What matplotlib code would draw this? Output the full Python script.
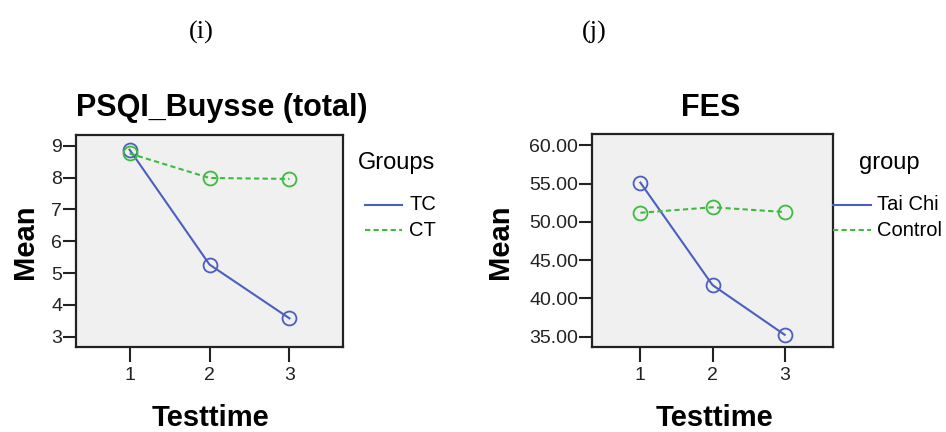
import matplotlib
matplotlib.use('Agg')
import matplotlib.pyplot as plt
from matplotlib.lines import Line2D

# ---- data ----
testtime = [1, 2, 3]

psqi_tc = [8.88, 5.27, 3.58]
psqi_ct = [8.76, 7.99, 7.96]
psqi_ticks = [3, 4, 5, 6, 7, 8, 9]

fes_taichi = [55.15, 41.75, 35.25]
fes_control = [51.2, 51.92, 51.3]
fes_ticks = [35, 40, 45, 50, 55, 60]

BLUE = '#4b5fc0'
GREEN = '#3dbb3d'
DASH = (0, (2.5, 1.6))

W, H = 946, 432
plt.rcParams['font.family'] = ['Liberation Sans', 'DejaVu Sans']


def fx(x):
    return x / W


def fy(y):
    return 1 - y / H


fig = plt.figure(figsize=(W / 100, H / 100), dpi=100)


def panel(rect, s1, s2, ticks, ylim, fmt):
    ax = fig.add_axes(rect)
    ax.set_facecolor('#f0f0f0')
    ax.plot(testtime, s1, color=BLUE, lw=1.5, marker='o', ms=10,
            mfc='none', mec=BLUE, mew=1.3)
    ax.plot(testtime, s2, color=GREEN, lw=1.5, ls=DASH, marker='o', ms=10,
            mfc='none', mec=GREEN, mew=1.3)
    ax.set_xlim(0.33, 3.67)
    ax.set_ylim(*ylim)
    ax.set_xticks(testtime)
    ax.set_yticks(ticks)
    ax.set_yticklabels([fmt.format(t) for t in ticks])
    for sp in ax.spines.values():
        sp.set_linewidth(1.6)
        sp.set_color('#222222')
    ax.tick_params(axis='y', length=9.5, width=1.5, pad=0.5,
                   labelsize=14, colors='#222222')
    ax.tick_params(axis='x', length=11, width=1.5, pad=3.5,
                   labelsize=14, colors='#222222')
    return ax


ax1 = panel([fx(76), fy(347), fx(267), 212 / H],
            psqi_tc, psqi_ct, psqi_ticks, (2.68, 9.34), '{:d}')
ax2 = panel([fx(592), fy(347), fx(241), 213 / H],
            fes_taichi, fes_control, fes_ticks, (33.65, 61.5), '{:.2f}')

# titles, axis labels
fig.text(fx(222), fy(108), 'PSQI_Buysse (total)', ha='center', va='center',
         fontsize=22, fontweight='bold')
fig.text(fx(711), fy(108), 'FES', ha='center', va='center',
         fontsize=22, fontweight='bold')
for x in (25, 500):
    fig.text(fx(x), fy(242), 'Mean', ha='center', va='center', rotation=90,
             fontsize=21, fontweight='bold')
for x in (210, 714):
    fig.text(fx(x), fy(431.5), 'Testtime', ha='center', va='bottom',
             fontsize=21, fontweight='bold')

# panel labels
fig.text(fx(201), fy(32), '(i)', ha='center', va='center',
         fontsize=19, family='Liberation Serif')
fig.text(fx(594), fy(32), '(j)', ha='center', va='center',
         fontsize=19, family='Liberation Serif')


# legends
def legend(title, tx, labels, x0, x1, lx):
    fig.text(fx(tx), fy(163), title, ha='left', va='center', fontsize=17)
    for lab, y, col, ls in zip(labels, (205, 230), (BLUE, GREEN), ('-', DASH)):
        fig.add_artist(Line2D([fx(x0), fx(x1)], [fy(y), fy(y)], color=col,
                              lw=1.5, ls=ls, transform=fig.transFigure))
        fig.text(fx(lx), fy(y), lab, ha='left', va='center', fontsize=14.5)


legend('Groups', 358, ['TC', 'CT'], 365, 402, 409)
legend('group', 859, ['Tai Chi', 'Control'], 833, 871, 877)

fig.savefig('out.png', dpi=100)
